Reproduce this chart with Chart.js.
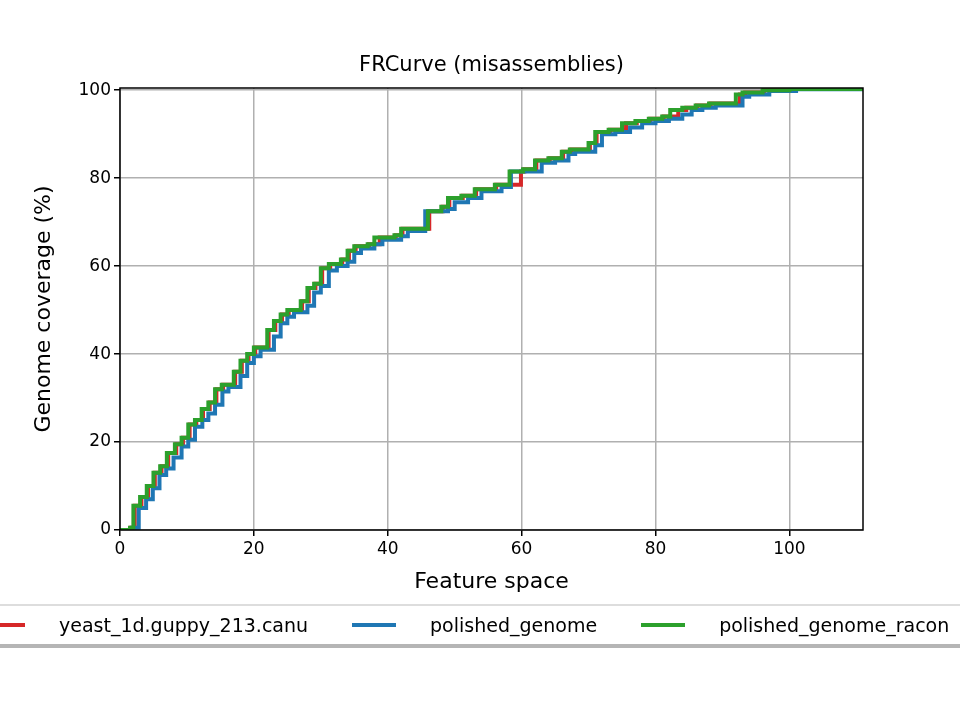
<!DOCTYPE html>
<html>
<head>
<meta charset="utf-8">
<script src="https://cdn.jsdelivr.net/npm/chart.js@4"></script>
<style>
  body { margin: 0; background: #fff; overflow: hidden; }
  #wrap { position: relative; width: 960px; height: 720px; overflow: hidden; }
  #legend {
    position: absolute; top: 604px; left: -19px; width: 1100px; height: 38px;
    border-top: 2px solid #ddd; border-bottom: 4px solid #b5b5b5;
    font-family: "DejaVu Sans", sans-serif; font-size: 19px; color: #000;
    display: flex; align-items: center;
  }
  .item { display: flex; align-items: center; margin-right: 44px; white-space: nowrap; }
  .sw { width: 44px; height: 4px; margin-right: 34px; }
</style>
</head>
<body>
<div id="wrap">
  <canvas id="grafico" width="960" height="720"></canvas>
  <div id="legend"></div>
</div>
<script>
const nomes = ['yeast_1d.guppy_213.canu', 'polished_genome', 'polished_genome_racon'];
const cores = ['#d62728', '#1f77b4', '#2ca02c'];

// pontos de degrau (x, y): y vale a partir de x
const canuX = [0, 1.6, 2.2, 3.2, 4.2, 5.2, 6.2, 7.2, 8.4, 9.4, 10.4, 11.4, 12.4, 13.4, 14.4, 15.4, 17.2, 18.2, 19.2, 20.2, 22.2, 23.2, 24.2, 25.2, 27.2, 28.2, 29.2, 30.2, 31.4, 33.2, 34.2, 35.2, 37.2, 38.8, 41.2, 42.2, 46.2, 48.2, 49.2, 51.2, 53.2, 56.2, 59.9, 60.4, 62.2, 64.2, 66.2, 67.4, 70.2, 71.2, 73.2, 75.6, 77.2, 79.2, 81.2, 83.4, 84.6, 86.2, 88.2, 92.6, 93.4, 96.2, 100.2, 111];
const canuY = [0, 0.5, 5.5, 7.5, 10, 13, 14.5, 17.5, 19.5, 21, 24, 25, 27.5, 29, 32, 33, 36, 38.5, 40, 41.5, 45.5, 47.5, 49, 50, 52, 55, 56, 59.5, 60.5, 61.5, 63.5, 64.5, 65, 66.5, 67, 68.5, 72.5, 73.5, 75.5, 76, 77.5, 78.5, 81.5, 82, 84, 84.5, 86, 86.5, 88, 90.5, 91, 92.5, 93, 93.5, 94, 95.5, 96, 96.5, 97, 99, 99.5, 100, 100.3, 100.5];

const polidoX = [0, 1.8, 2.8, 3.9, 4.9, 5.9, 6.9, 8.0, 9.2, 10.2, 11.2, 12.3, 13.2, 14.2, 15.3, 16.2, 18.0, 19.0, 20.0, 21.0, 23.0, 24.0, 25.0, 26.0, 28.0, 29.0, 30.0, 31.2, 32.4, 34.0, 35.0, 36.0, 38.0, 39.2, 42.0, 43.0, 45.6, 49.0, 50.0, 52.0, 54.0, 57.0, 58.4, 61.0, 63.0, 65.0, 67.0, 68.0, 71.0, 72.0, 74.0, 76.2, 78.0, 80.0, 82.0, 84.0, 85.4, 87.0, 89.0, 93.0, 94.0, 97.0, 101.0, 111];
const polidoY = [0, 0.5, 5, 7, 9.5, 12.5, 14, 16.5, 19, 20.5, 23.5, 25, 26.5, 28.5, 31.5, 32.5, 35, 38, 39.5, 41, 44, 47, 48.5, 49.5, 51, 54, 55.5, 59, 60, 61, 63, 64, 65, 66, 66.8, 68, 72.5, 73, 74.5, 75.5, 77, 78, 81.5, 81.5, 83.5, 84, 85.5, 86, 87.5, 90, 90.5, 91.5, 92.5, 93, 93.5, 94.5, 95.5, 96, 96.5, 98.5, 99, 99.8, 100.2, 100.5];

const raconX = [0, 1.5, 2.0, 3.0, 4.0, 5.0, 6.0, 7.0, 8.2, 9.2, 10.2, 11.2, 12.2, 13.2, 14.2, 15.2, 17.0, 18.0, 19.0, 20.0, 22.0, 23.0, 24.0, 25.0, 27.0, 28.0, 29.0, 30.0, 31.2, 33.0, 34.0, 35.0, 37.0, 38.0, 41.0, 42.0, 46.0, 48.0, 49.0, 51.0, 53.0, 56.0, 58.2, 60.2, 62.0, 64.0, 66.0, 67.2, 70.0, 71.0, 73.0, 75.0, 77.0, 79.0, 81.0, 82.2, 84.0, 86.0, 88.0, 92.0, 93.0, 96.0, 100.0, 111];
const raconY = [0, 0.5, 5.5, 7.5, 10, 13, 14.5, 17.5, 19.5, 21, 24, 25, 27.5, 29, 32, 33, 36, 38.5, 40, 41.5, 45.5, 47.5, 49, 50, 52, 55, 56, 59.5, 60.5, 61.5, 63.5, 64.5, 65, 66.5, 67, 68.5, 72.5, 73.5, 75.5, 76, 77.5, 78.5, 81.5, 82, 84, 84.5, 86, 86.5, 88, 90.5, 91, 92.5, 93, 93.5, 94, 95.5, 96, 96.5, 97, 99, 99.5, 100, 100.3, 100.5];

const xTicks = [0, 20, 40, 60, 80, 100];
const yTicks = [0, 20, 40, 60, 80, 100];

function pontos(xs, ys) {
    return xs.map((x, i) => ({ x: x, y: ys[i] }));
}

const fonte = '"DejaVu Sans", sans-serif';

const molduraPlugin = {
    id: 'moldura',
    afterDraw(chart) {
        const { ctx, chartArea: a } = chart;
        ctx.save();
        ctx.strokeStyle = '#000';
        ctx.lineWidth = 1.5;
        ctx.strokeRect(a.left, a.top, a.right - a.left, a.bottom - a.top);
        ctx.fillStyle = '#000';
        ctx.textAlign = 'center';
        ctx.textBaseline = 'middle';
        ctx.font = '21px ' + fonte;
        ctx.fillText('FRCurve (misassemblies)', (a.left + a.right) / 2, 66);
        ctx.font = '22px ' + fonte;
        ctx.fillText('Feature space', (a.left + a.right) / 2, 582);
        ctx.translate(44, (a.top + a.bottom) / 2);
        ctx.rotate(-Math.PI / 2);
        ctx.fillText('Genome coverage (%)', 0, 0);
        ctx.restore();
    }
};

const series = [pontos(canuX, canuY), pontos(polidoX, polidoY), pontos(raconX, raconY)];

new Chart(document.getElementById('grafico').getContext('2d'), {
    type: 'line',
    data: {
        datasets: series.map((d, i) => ({
            label: nomes[i],
            data: d,
            borderColor: cores[i],
            borderWidth: 4,
            pointRadius: 0,
            stepped: 'before',
            fill: false,
            order: 3 - i
        }))
    },
    options: {
        responsive: false,
        animation: false,
        layout: { padding: { left: 0, right: 97, top: 88, bottom: 120 } },
        plugins: { legend: { display: false }, tooltip: { enabled: false } },
        scales: {
            x: {
                type: 'linear', min: 0, max: 111,
                afterBuildTicks: s => { s.ticks = xTicks.map(v => ({ value: v })); },
                afterFit: s => { s.height = 70; },
                ticks: { color: '#000', font: { family: fonte, size: 17 }, padding: 3 },
                grid: { color: '#b0b0b0', lineWidth: 1.5, tickColor: '#000', tickLength: 6 },
                border: { display: false }
            },
            y: {
                type: 'linear', min: 0, max: 100.5,
                afterBuildTicks: s => { s.ticks = yTicks.map(v => ({ value: v })); },
                afterFit: s => { s.width = 120; },
                ticks: { color: '#000', font: { family: fonte, size: 17 }, padding: 3 },
                grid: { color: '#b0b0b0', lineWidth: 1.5, tickColor: '#000', tickLength: 6 },
                border: { display: false }
            }
        }
    },
    plugins: [molduraPlugin]
});

const legenda = document.getElementById('legend');
nomes.forEach((n, i) => {
    const item = document.createElement('div');
    item.className = 'item';
    item.innerHTML = `<div class="sw" style="background:${cores[i]}"></div><span>${n}</span>`;
    legenda.appendChild(item);
});
</script>
</body>
</html>
